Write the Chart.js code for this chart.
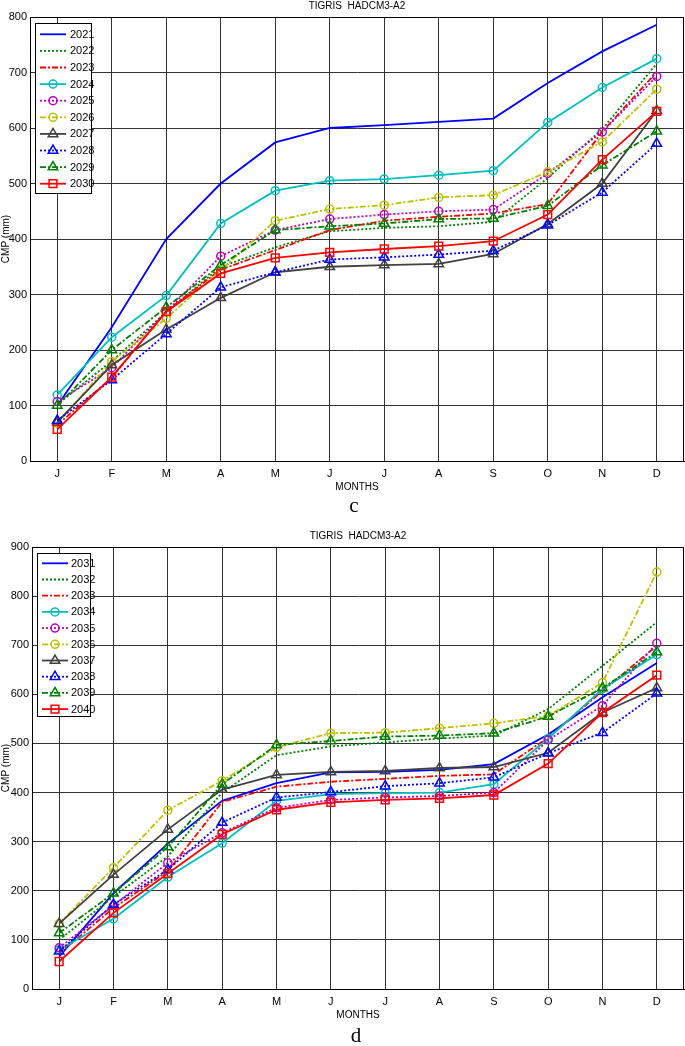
<!DOCTYPE html>
<html>
<head>
<meta charset="utf-8">
<script src="https://cdn.jsdelivr.net/npm/chart.js@4.4.1/dist/chart.umd.min.js"></script>
<style>
  body { margin:0; background:#fff; width:685px; height:1046px; position:relative; overflow:hidden; }
  .pan { position:absolute; left:0; width:685px; height:500px; }
  .tag { position:absolute; width:20px; text-align:center; font:21px "Liberation Serif", serif; line-height:22px; color:#000; }
</style>
</head>
<body>
<div class="pan" style="top:0"><canvas id="chC"></canvas></div>
<div class="tag" style="left:344px;top:494px">c</div>
<div class="pan" style="top:530px"><canvas id="chD"></canvas></div>
<div class="tag" style="left:346px;top:1024px">d</div>

<script>
// month labels on the x axis
const MONTHS = ['J','F','M','A','M','J','J','A','S','O','N','D'];

// panel c: 2021-2030 (CMP, mm)
const YEARS_C = ['2021','2022','2023','2024','2025','2026','2027','2028','2029','2030'];
const y2021 = [100, 241, 400, 500, 574, 600, 605, 611, 617, 681, 738, 786];
const y2022 = [102, 180, 268, 350, 385, 414, 420, 423, 431, 510, 598, 716];
const y2023 = [ 65, 150, 270, 345, 380, 416, 433, 440, 446, 463, 593, 701];
const y2024 = [119, 223, 298, 428, 487, 505, 508, 515, 523, 610, 673, 725];
const y2025 = [107, 168, 269, 369, 416, 436, 444, 450, 453, 518, 593, 693];
const y2026 = [ 68, 179, 257, 344, 433, 454, 461, 475, 479, 521, 575, 670];
const y2027 = [ 70, 173, 237, 294, 340, 350, 353, 355, 373, 427, 500, 631];
const y2028 = [ 73, 146, 229, 313, 340, 363, 367, 372, 379, 425, 484, 572];
const y2029 = [100, 200, 277, 353, 416, 423, 428, 436, 437, 460, 533, 594];
const y2030 = [ 57, 151, 269, 338, 366, 376, 382, 387, 396, 444, 543, 630];

// panel d: 2031-2040 (CMP, mm)
const YEARS_D = ['2031','2032','2033','2034','2035','2036','2037','2038','2039','2040'];
const y2031 = [ 66, 195, 296, 383, 419, 441, 442, 446, 458, 518, 594, 664];
const y2032 = [100, 188, 270, 400, 476, 494, 502, 510, 516, 570, 658, 747];
const y2033 = [ 72, 165, 240, 381, 412, 422, 428, 434, 437, 512, 607, 699];
const y2034 = [ 80, 143, 228, 297, 383, 397, 399, 400, 417, 510, 611, 681];
const y2035 = [ 84, 170, 257, 318, 369, 385, 390, 393, 400, 507, 577, 704];
const y2036 = [133, 247, 364, 424, 492, 521, 522, 531, 541, 556, 624, 849];
const y2037 = [133, 233, 325, 406, 436, 442, 444, 450, 452, 481, 563, 613];
const y2038 = [ 77, 172, 243, 339, 390, 401, 413, 419, 431, 480, 522, 602];
const y2039 = [114, 195, 289, 417, 497, 505, 514, 516, 521, 555, 613, 686];
const y2040 = [ 56, 155, 235, 315, 365, 380, 385, 388, 395, 459, 563, 639];

// matlab-ish line specs, same sequence for both panels
const COLS  = ['#0000ff','#008000','#ff0000','#00bfbf','#bf00bf','#bfbf00','#404040','#0000ff','#008000','#ff0000'];
const DASH  = [[], [2,2], [6,2,2,2], [], [2,2], [6,2,2,2], [], [2,2], [6,2,2,2], []];
const MARK  = [null, null, null, 'circle','circle','circle','triangle','triangle','triangle','rect'];
const MRAD  = { circle:4, triangle:5.5, rect:5.5 };

const NARROW = '"Liberation Sans Narrow", "Arial Narrow", sans-serif';
const GRID = '#333';

const mkSets = (names, rows) => rows.map((d, i) => ({
  label: names[i], data: d,
  borderColor: COLS[i], borderWidth: 1.8, borderDash: DASH[i],
  pointStyle: MARK[i] || 'circle', pointRadius: MARK[i] ? MRAD[MARK[i]] : 0,
  pointBorderColor: COLS[i], pointBackgroundColor: 'rgba(0,0,0,0)', pointBorderWidth: 1.5,
  tension: 0, fill: false, order: -i,
}));

// frame, title and the boxed legend in the upper-left corner
const panelDeco = {
  id: 'panelDeco',
  afterDraw(ch, args, o) {
    const { ctx, chartArea: a } = ch;
    ctx.save();
    ctx.strokeStyle = '#000'; ctx.lineWidth = 1; ctx.setLineDash([]);
    ctx.strokeRect(Math.round(a.left) + .5, Math.round(a.top) + .5, Math.round(a.right - a.left) - 1, Math.round(a.bottom - a.top));

    ctx.fillStyle = '#000';
    ctx.font = '10px ' + NARROW;
    ctx.textAlign = 'center'; ctx.textBaseline = 'middle';
    ctx.fillText(o.title, (a.left + a.right) / 2, 6);

    const L = o.legend;
    ctx.fillStyle = '#fff';
    ctx.fillRect(L.x0, L.y0, L.x1 - L.x0, L.y1 - L.y0);
    ctx.strokeStyle = '#000';
    ctx.strokeRect(L.x0 + .5, L.y0 + .5, L.x1 - L.x0, L.y1 - L.y0);

    ch.data.datasets.forEach((ds, i) => {
      const y = L.r0 + i * L.dy;
      ctx.strokeStyle = ds.borderColor; ctx.lineWidth = 1.8;
      ctx.setLineDash(ds.borderDash);
      ctx.beginPath(); ctx.moveTo(L.lx0, y); ctx.lineTo(L.lx1, y); ctx.stroke();
      ctx.setLineDash([]);
      if (ds.pointRadius) {
        ctx.fillStyle = 'rgba(0,0,0,0)'; ctx.lineWidth = 1.5;
        Chart.helpers.drawPoint(ctx, { pointStyle: ds.pointStyle, radius: ds.pointRadius, borderWidth: 1.5, rotation: 0 }, (L.lx0 + L.lx1) / 2, y);
      }
      ctx.fillStyle = '#000';
      ctx.font = '11px ' + NARROW;
      ctx.textAlign = 'left'; ctx.textBaseline = 'middle';
      ctx.fillText(ds.label, L.tx, y + .5);
    });
    ctx.restore();
  }
};

function panel(id, names, rows, yMax, yW, padBottom, legend) {
  const tickFont = { family: NARROW, size: 11 };
  return new Chart(document.getElementById(id), {
    type: 'line',
    data: { labels: MONTHS, datasets: mkSets(names, rows) },
    plugins: [panelDeco],
    options: {
      responsive: true, maintainAspectRatio: false, animation: false,
      layout: { autoPadding: false, padding: { top: 17, right: 1, bottom: padBottom, left: 0 } },
      plugins: {
        legend: { display: false }, tooltip: { enabled: false },
        panelDeco: { title: 'TIGRIS  HADCM3-A2', legend },
      },
      scales: {
        x: {
          offset: true,
          grid: { color: GRID, lineWidth: 1, drawTicks: false, offset: false },
          border: { color: '#000', width: 1 },
          ticks: { font: tickFont, color: '#000', padding: 6, autoSkip: false, maxRotation: 0 },
          title: { display: true, text: 'MONTHS', color: '#000', font: { family: NARROW, size: 10 }, padding: 0 },
          afterFit: s => { s.height = 32; s.paddingLeft = 0; s.paddingRight = 0; },
        },
        y: {
          min: 0, max: yMax,
          grid: { color: GRID, lineWidth: 1, drawTicks: false },
          border: { color: '#000', width: 1 },
          ticks: { stepSize: 100, font: tickFont, color: '#000', padding: 3 },
          title: { display: true, text: 'CMP (mm)', color: '#000', font: { family: '"Liberation Sans", Arial, sans-serif', size: 10 }, padding: 0 },
          afterFit: s => { s.width = yW; },
        },
      },
    },
  });
}

panel('chC', YEARS_C, [y2021, y2022, y2023, y2024, y2025, y2026, y2027, y2028, y2029, y2030], 800, 30, 7,
  { x0: 35, y0: 23, x1: 91, y1: 193, r0: 34.3, dy: 16.6, lx0: 40, lx1: 66, tx: 70 });

panel('chD', YEARS_D, [y2031, y2032, y2033, y2034, y2035, y2036, y2037, y2038, y2039, y2040], 900, 32, 9,
  { x0: 37, y0: 23, x1: 90, y1: 186, r0: 33.3, dy: 16.2, lx0: 42, lx1: 68, tx: 71 });
</script>
</body>
</html>
